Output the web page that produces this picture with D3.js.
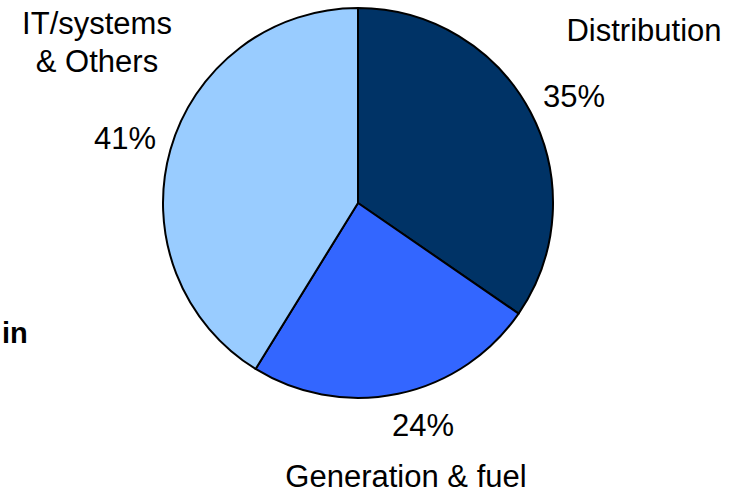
<!DOCTYPE html>
<html>
<head>
<meta charset="utf-8">
<script src="https://cdn.jsdelivr.net/npm/d3@7"></script>
<style>
  html, body { margin: 0; padding: 0; background: #fff; }
  svg { display: block; }
  text { font-family: "Liberation Sans", Arial, sans-serif; fill: #000; }
</style>
</head>
<body>
<svg id="chart" width="740" height="494"></svg>
<script>
// Data
const categories = ["Distribution", "Generation & fuel", "IT/systems & Others"];
const values = [34.6, 24.2, 41.2];
const percentLabels = ["35%", "24%", "41%"];
const colors = ["#003366", "#3366FF", "#99CCFF"];

// Layout (positions of text labels)
const center = [358, 203];
const radius = 195;
const nameLayout = [
  { x: 644, lines: [{ y: 41, t: "Distribution" }] },
  { x: 406, lines: [{ y: 487, t: "Generation & fuel" }] },
  { x: 97, lines: [{ y: 34, t: "IT/systems" }, { y: 72, t: "& Others" }] }
];
const pctLayout = [
  { x: 574, y: 107 },
  { x: 423, y: 436 },
  { x: 125, y: 149 }
];

const svg = d3.select("#chart");

const pie = d3.pie().sort(null).value(d => d)(values);
const arc = d3.arc().innerRadius(0).outerRadius(radius);

const g = svg.append("g").attr("transform", `translate(${center[0]},${center[1]})`);
g.selectAll("path")
  .data(pie)
  .join("path")
  .attr("d", arc)
  .attr("fill", (d, i) => colors[i])
  .attr("stroke", "#000")
  .attr("stroke-width", 2)
  .attr("stroke-linejoin", "round");

// Category names
nameLayout.forEach((n, i) => {
  n.lines.forEach(l => {
    svg.append("text")
      .attr("x", n.x).attr("y", l.y)
      .attr("text-anchor", "middle")
      .attr("font-size", 31)
      .text(l.t);
  });
});

// Percent labels
pctLayout.forEach((p, i) => {
  svg.append("text")
    .attr("x", p.x).attr("y", p.y)
    .attr("text-anchor", "middle")
    .attr("font-size", 31)
    .text(percentLabels[i]);
});

// Clipped fragment of slide text
svg.append("text")
  .attr("x", 2).attr("y", 343)
  .attr("font-size", 29)
  .attr("font-weight", "bold")
  .text("in");
</script>
</body>
</html>
